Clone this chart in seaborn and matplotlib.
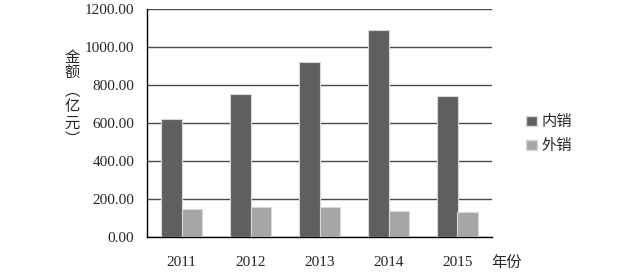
import numpy as np, pandas as pd
import matplotlib; matplotlib.use("Agg")
import matplotlib.pyplot as plt
from matplotlib.patches import Patch
import seaborn as sns

years = ["2011", "2012", "2013", "2014", "2015"]
domestic = [621, 752, 921, 1089, 744]   # 内销
export = [146, 158, 160, 139, 133]      # 外销
series = ["内销", "外销"]
colors = ["#5f5f5f", "#a6a6a6"]

df = pd.DataFrame({"year": years * 2,
                   "value": domestic + export,
                   "kind": [series[0]] * 5 + [series[1]] * 5})

sns.set_style("white")
plt.rcParams["font.family"] = ["Liberation Serif", "Noto Sans CJK SC"]
cjk = ["Noto Sans CJK SC", "DejaVu Sans"]

fig = plt.figure(figsize=(6.25, 2.73), dpi=100)
ax = fig.add_axes([0.2352, 0.1319, 0.552, 0.835])
sns.barplot(data=df, x="year", y="value", hue="kind", palette=colors, width=0.58,
            edgecolor="#d8d8d8", linewidth=0.8, ax=ax, legend=False, zorder=3)

ax.set_ylim(0, 1200); ax.set_xlim(-0.5, 4.5)
ax.set_yticks(np.arange(0, 1201, 200))
ax.set_yticklabels([f"{v:.2f}" for v in np.arange(0, 1201, 200)], fontsize=11)
ax.yaxis.grid(True, color="#4a4a4a", lw=1.0, zorder=0)
ax.set_xticks(range(5)); ax.set_xticklabels(years, fontsize=11)
ax.set_xticks(np.arange(-0.5, 5, 1), minor=True)
ax.tick_params(axis="x", which="major", length=0, pad=14)
ax.tick_params(axis="x", which="minor", length=5, width=1, color="black", direction="out")
ax.tick_params(axis="y", length=5, width=1, color="black", direction="out", pad=4)
for s in ["top", "right"]:
    ax.spines[s].set_visible(False)
for s in ["left", "bottom"]:
    ax.spines[s].set_color("black"); ax.spines[s].set_linewidth(1)
ax.set_xlabel(""); ax.set_ylabel("")

fig.text(0.115, 0.64, "金\n额\n︵\n亿\n元\n︶", family=cjk, fontsize=11,
         ha="center", va="center", linespacing=0.95)
fig.text(0.81, 0.04, "年份", family=cjk, fontsize=11, ha="center", va="center")

handles = [Patch(facecolor=c, edgecolor="#d8d8d8") for c in colors]
fig.legend(handles, series, loc="center left", bbox_to_anchor=(0.82, 0.51),
           frameon=False, prop={"family": cjk, "size": 11},
           handlelength=0.7, handleheight=0.7, handletextpad=0.3, labelspacing=0.45)

fig.savefig("out.png", dpi=100)
